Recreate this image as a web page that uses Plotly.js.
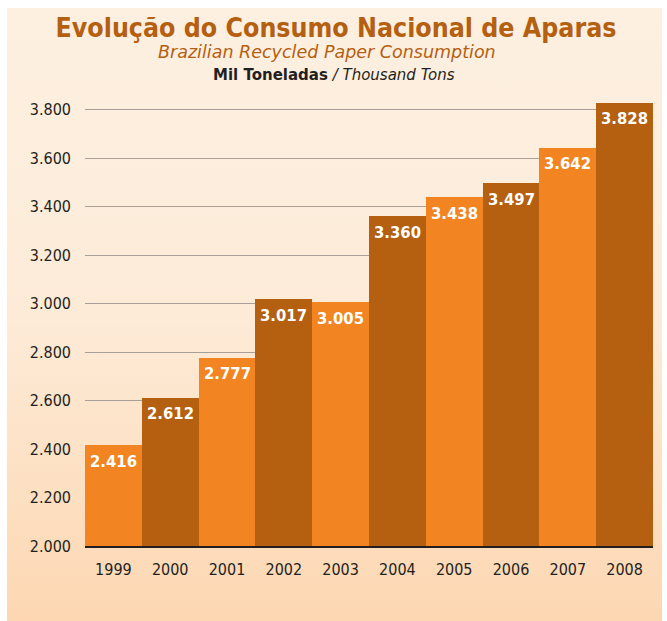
<!DOCTYPE html>
<html>
<head>
<meta charset="utf-8">
<script src="https://cdn.plot.ly/plotly-3.0.1.min.js"></script>
<style>
  html, body { margin: 0; padding: 0; background: #ffffff; }
  #wrap { position: relative; width: 667px; height: 621px; }
  #bg { position: absolute; left: 7px; top: 8px; width: 655px; height: 613px;
        background: linear-gradient(to bottom, #fdf0e1 0%, #fdebd8 50%, #fdd7b2 100%); }
  #chart { position: absolute; left: 0; top: 0; width: 667px; height: 621px; }
</style>
</head>
<body>
<div id="wrap">
  <div id="bg"></div>
  <div id="chart"></div>
</div>
<script>
const years = ['1999','2000','2001','2002','2003','2004','2005','2006','2007','2008'];
const consumption = [2416, 2612, 2777, 3017, 3005, 3360, 3438, 3497, 3642, 3828];
const yTicks = [2000, 2200, 2400, 2600, 2800, 3000, 3200, 3400, 3600, 3800];

const FONT = '"DejaVu Sans Condensed", "DejaVu Sans", sans-serif';
const FONT_WIDE = '"DejaVu Sans", sans-serif';
const light = '#f38422';
const dark = '#b55f10';
const barColors = years.map((y, i) => i % 2 === 0 ? light : dark);

const trace = {
  type: 'bar',
  x: years,
  y: consumption,
  marker: { color: barColors, line: { width: 0 } },
  hoverinfo: 'skip'
};

const fmt = v => v.toLocaleString('de-DE');

const valueLabels = years.map((yr, i) => ({
  x: i,
  y: consumption[i],
  xref: 'x', yref: 'y',
  text: '<b>' + fmt(consumption[i]) + '</b>',
  showarrow: false,
  xanchor: 'center',
  yanchor: 'middle',
  yshift: -16,
  font: { family: FONT, size: 16.5, color: '#ffffff' }
}));

const layout = {
  width: 667,
  height: 621,
  margin: { l: 85, r: 14, t: 100, b: 75 },
  paper_bgcolor: 'rgba(0,0,0,0)',
  plot_bgcolor: 'rgba(0,0,0,0)',
  separators: ',.',
  bargap: 0,
  showlegend: false,
  font: { family: FONT, color: '#231f20' },
  xaxis: {
    type: 'category',
    categoryorder: 'array',
    categoryarray: years,
    range: [-0.5, years.length - 0.5],
    autorange: false,
    showgrid: false,
    showline: true,
    linecolor: '#231f20',
    linewidth: 1.5,
    ticks: '',
    tickfont: { family: FONT, size: 16, color: '#231f20' },
    ticklabelstandoff: 8,
    fixedrange: true
  },
  yaxis: {
    range: [2000, 3840],
    autorange: false,
    tickvals: yTicks,
    tickformat: ',d',
    showgrid: true,
    gridcolor: '#a89f98',
    gridwidth: 1,
    zeroline: false,
    showline: false,
    ticks: '',
    tickfont: { family: FONT, size: 16, color: '#231f20' },
    ticklabelstandoff: 13,
    fixedrange: true
  },
  title: {
    text: '<b>Evolução do Consumo Nacional de Aparas</b>',
    font: { family: FONT, size: 26.5, color: '#b55f10' },
    xref: 'container',
    x: 336 / 667, xanchor: 'center',
    yref: 'container',
    y: 1 - 28 / 621, yanchor: 'middle'
  },
  annotations: [
    {
      text: '<i>Brazilian Recycled Paper Consumption</i>',
      xref: 'paper', yref: 'paper',
      x: (327 - 85) / 568, xanchor: 'center',
      y: 1 + (100 - 52) / 446, yanchor: 'middle',
      showarrow: false,
      font: { family: FONT_WIDE, size: 17.5, color: '#b55f10' }
    },
    {
      text: '<b>Mil Toneladas</b> <i>/ Thousand Tons</i>',
      xref: 'paper', yref: 'paper',
      x: (334 - 85) / 568, xanchor: 'center',
      y: 1 + (100 - 75) / 446, yanchor: 'middle',
      showarrow: false,
      font: { family: FONT_WIDE, size: 15, color: '#231f20' }
    }
  ].concat(valueLabels)
};

Plotly.newPlot('chart', [trace], layout, { displayModeBar: false, staticPlot: true });
</script>
</body>
</html>
